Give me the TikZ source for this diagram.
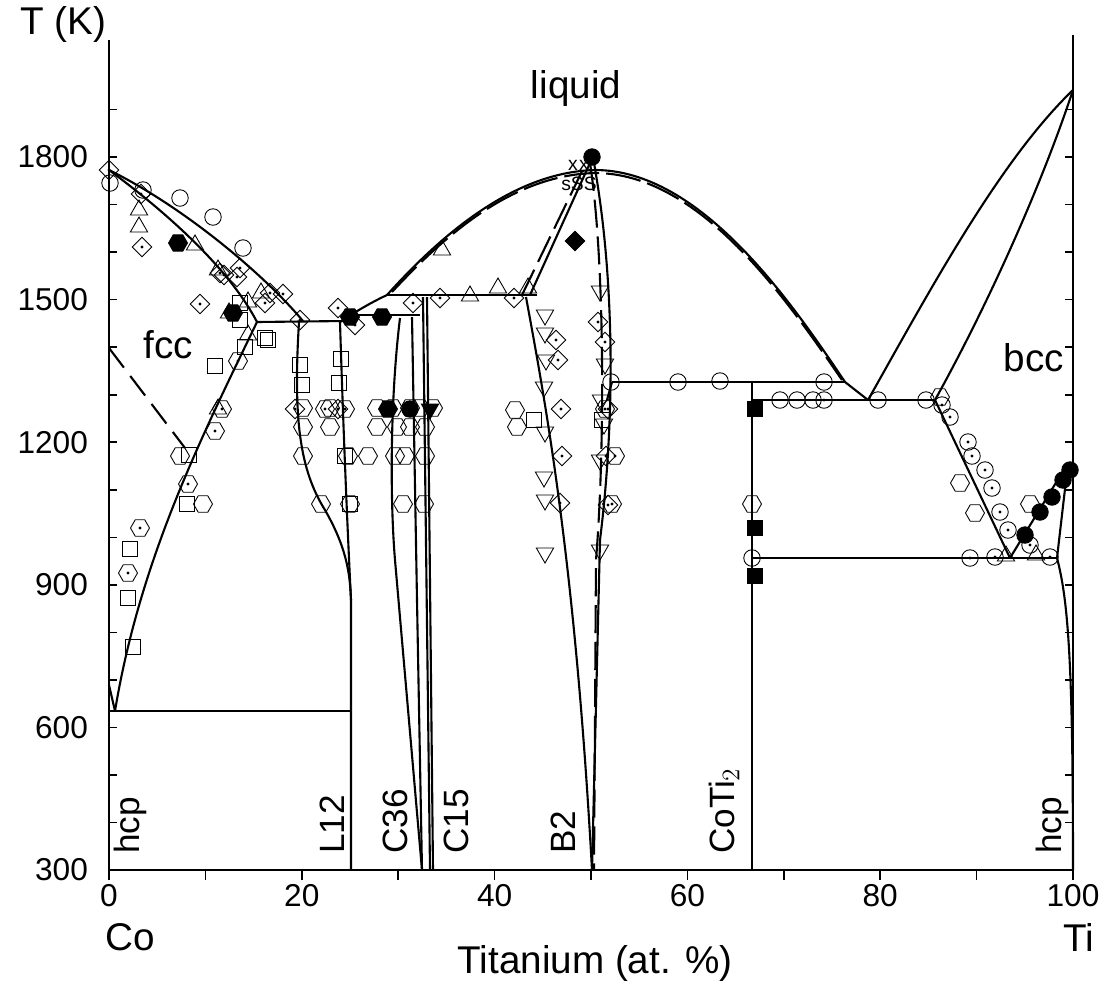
\documentclass[tikz,border=0pt]{standalone}
\usepackage{fontspec}
\setmainfont{Liberation Sans}
\usetikzlibrary{shapes.geometric}

\tikzset{
  phase/.style={line width=1.2pt},
  frame/.style={line width=0.9pt},
  mk/.style={draw, line width=0.5pt, inner sep=0pt},
  mc/.style={mk, circle, minimum size=0.33cm},
  mh/.style={mk, regular polygon, regular polygon sides=6, minimum size=0.38cm},
  md/.style={mk, diamond, minimum size=0.4cm},
  mt/.style={mk, regular polygon, regular polygon sides=3, minimum size=0.4cm},
  mv/.style={mk, regular polygon, regular polygon sides=3, shape border rotate=180, minimum size=0.4cm},
  ms/.style={mk, rectangle, minimum size=0.3cm},
  dotted mark/.style={path picture={\fill (path picture bounding box.center) circle (0.9pt);}},
  tick lbl/.style={font=\fontsize{18}{20}\selectfont, inner sep=1pt},
  lbl/.style={font=\fontsize{22}{24}\selectfont, inner sep=1pt},
  vlbl/.style={font=\fontsize{20}{22}\selectfont, inner sep=1pt, rotate=90},
}

\begin{document}
\begin{tikzpicture}[x=0.02cm, y=-0.02cm]
\useasboundingbox (0,0) rectangle (1110,992);

% axes
\draw[frame] (109,40) -- (109,870) -- (1073,870) -- (1073,35);
\foreach \t in {0,...,16}
{
  \pgfmathsetmacro\ty{870-\t*47.53}
  \draw[frame] (109,\ty) -- (117,\ty);
  \draw[frame] (1073,\ty) -- (1065,\ty);
}
\foreach \c in {0,10,...,100}
  \draw[frame] ({109+9.64*\c},870) -- ({109+9.64*\c},880);
\foreach \t/\ty in {1800/157,1500/300,1200/443,900/585,600/728,300/870}
  \node[tick lbl, anchor=east] at (90,\ty) {\t};
\foreach \c in {0,20,40,60,80,100}
  \node[tick lbl, anchor=north] at ({109+9.64*\c},882) {\c};
\node[lbl] at (63,24) {T (K)};
\node[lbl, anchor=west] at (103,937) {Co};
\node[lbl, anchor=west] at (1061,937) {Ti};
\node[lbl] at (595,963) {Titanium (at. \%)};
\node[lbl] at (576,88) {liquid};
\node[lbl] at (168,345) {fcc};
\node[lbl] at (1034,358) {bcc};
\node[vlbl, anchor=west] at (130,856) {hcp};
\node[vlbl, anchor=west] at (332,856) {L12};
\node[vlbl, anchor=west] at (395,856) {C36};
\node[vlbl, anchor=west] at (456,856) {C15};
\node[vlbl, anchor=west] at (563,856) {B2};
\node[vlbl, anchor=west] at (724,856) {CoTi$_2$};
\node[vlbl, anchor=west] at (1052,856) {hcp};

% Co side: liquidus, solidus, fcc solvus
\draw[phase] (109,170) .. controls (180,205) and (260,270) .. (303,321);
\draw[phase] (109,170) .. controls (170,215) and (230,270) .. (257,322);
\draw[phase] (257,322) .. controls (200,440) and (140,560) .. (115,711);
\draw[phase] (109,685) -- (115,711);
\draw[phase] (109,711) -- (351,711);
\draw[phase, dashed, dash pattern=on 14pt off 6pt] (109,348) -- (185,448);
\draw[phase] (257,322) -- (345,321);

% L12
\draw[phase] (299,322) .. controls (293,420) and (300,470) .. (325,510) .. controls (345,545) and (350,570) .. (351,600) -- (351,870);
\draw[phase] (340,322) .. controls (343,420) and (347,520) .. (351,600);
\draw[phase] (340,322) .. controls (355,312) and (370,303) .. (387,295);
\draw[phase] (347,315) -- (420,315);

% C36 and C15
\draw[phase] (400,318) .. controls (390,400) and (390,500) .. (395,560) -- (422,870);
\draw[phase] (412,317) -- (417,600) -- (422,870);
\draw[phase] (423,297) -- (430,870);
\draw[phase] (427,297) -- (433,870);
\draw[phase] (387,295) -- (537,295);

% liquidus dome
\draw[phase] (387,295) .. controls (450,225) and (520,172) .. (595,170)
  .. controls (700,170) and (790,300) .. (845,382) -- (868,400);
\draw[phase, dashed, dash pattern=on 20pt off 4pt] (392,292) .. controls (455,224) and (520,175) .. (595,173)
  .. controls (700,173) and (787,300) .. (842,380);

% B2
\draw[phase] (530,295) -- (590,163);
\draw[phase, dashed, dash pattern=on 16pt off 5pt] (522,295) -- (586,163);
\draw[phase] (526,297) .. controls (545,400) and (575,560) .. (592,870);
\draw[phase] (594,163) .. controls (615,280) and (615,420) .. (600,540) -- (592,870);
\draw[phase, dashed, dash pattern=on 16pt off 5pt] (590,163) .. controls (605,260) and (605,450) .. (596,560) -- (594,870);
\draw[phase] (612,382) -- (845,382);
\draw[phase] (607,400) -- (612,382);

% CoTi2, eutectic, eutectoid
\draw[phase] (752,382) -- (752,870);
\draw[phase] (752,400) -- (935,400);
\draw[phase] (752,558) -- (1057,558);

% Ti side
\draw[phase] (868,400) .. controls (930,290) and (1000,160) .. (1073,90);
\draw[phase] (935,400) .. controls (985,310) and (1040,190) .. (1073,90);
\draw[phase] (935,400) -- (1010,558);
\draw[phase] (1010,558) -- (1068,463);
\draw[phase] (1057,558) -- (1068,463);
\draw[phase] (1057,558) .. controls (1068,600) and (1073,660) .. (1073,870);

% data points
\foreach \x/\y in {110/183, 143/190, 180/198, 213/217, 243/248, 611/382, 678/382, 720/381, 780/400, 797/400, 813/400, 878/400, 926/400, 752/558, 824/382}
  \node[mc] at (\x,\y) {};
\foreach \x/\y in {942/405, 950/417, 968/442, 972/456, 985/470, 992/488, 1000/512, 970/558, 995/557, 1050/557, 1008/530, 1030/545, 824/400}
  \node[mc, dotted mark] at (\x,\y) {};
\foreach \x/\y in {303/408, 330/408, 377/408, 393/408, 410/408, 420/408, 433/408, 303/427, 330/427, 377/427, 397/427, 410/427, 425/427, 515/410, 517/427, 180/456, 303/456, 348/456, 368/456, 395/456, 405/456, 425/456, 203/504, 321/504, 350/504, 403/504, 424/504, 752/504, 940/397, 960/483, 975/513, 1030/504}
  \node[mh] at (\x,\y) {};
\foreach \x/\y in {238/361, 222/409, 215/431, 188/484, 140/528, 128/573, 325/409, 345/409, 605/409, 615/456, 612/504}
  \node[mh, dotted mark] at (\x,\y) {};
\foreach \x/\y in {178/243, 233/313, 350/317, 382/317, 388/409}
  \node[mh, fill=black] at (\x,\y) {};
\foreach \x/\y in {410/409, 592/157, 1025/535, 1040/512, 1052/497, 1063/480, 1070/470}
  \node[mc, fill=black] at (\x,\y) {};
\node[mv, fill=black] at (430,409) {};
\node[md, fill=black] at (575,241) {};
\foreach \x/\y in {755/409, 755/528, 755/576}
  \node[ms, fill=black] at (\x,\y) {};
\foreach \x/\y in {109/170, 141/194, 142/247, 220/273, 224/275, 237/277, 240/268, 270/293, 265/303, 283/294, 300/320, 338/308, 355/325, 200/304, 295/409, 338/409, 413/303, 440/298, 514/298, 556/340, 558/360, 561/409, 562/456, 560/503, 605/342, 608/409, 606/456, 608/505, 598/322}
  \node[md, dotted mark] at (\x,\y) {};
\foreach \x/\y in {139/210, 139/227, 195/245, 218/270, 248/302, 229/313, 248/335, 218/409, 442/250, 470/296, 498/288, 528/288, 261/293, 1036/555, 1006/556}
  \node[mt] at (\x,\y) {};
\foreach \x/\y in {545/315, 545/333, 546/360, 544/387, 545/432, 545/500, 545/553, 600/291, 601/400, 600/460, 600/550, 604/424, 605/364, 544/477}
  \node[mv] at (\x,\y) {};
\foreach \x/\y in {240/303, 240/320, 245/347, 215/366, 189/455, 130/549, 128/598, 133/647, 265/338, 268/340, 300/365, 302/385, 341/359, 339/383, 345/456, 350/504, 187/504, 534/420, 602/420}
  \node[ms] at (\x,\y) {};

% symbols at congruent point
\node[font=\fontsize{11}{12}\selectfont, inner sep=0pt] at (573,165) {x};
\node[font=\fontsize{11}{12}\selectfont, inner sep=0pt] at (584,165) {x};
\node[font=\fontsize{11}{12}\selectfont, inner sep=0pt] at (579,184) {sSS};
\end{tikzpicture}
\end{document}
